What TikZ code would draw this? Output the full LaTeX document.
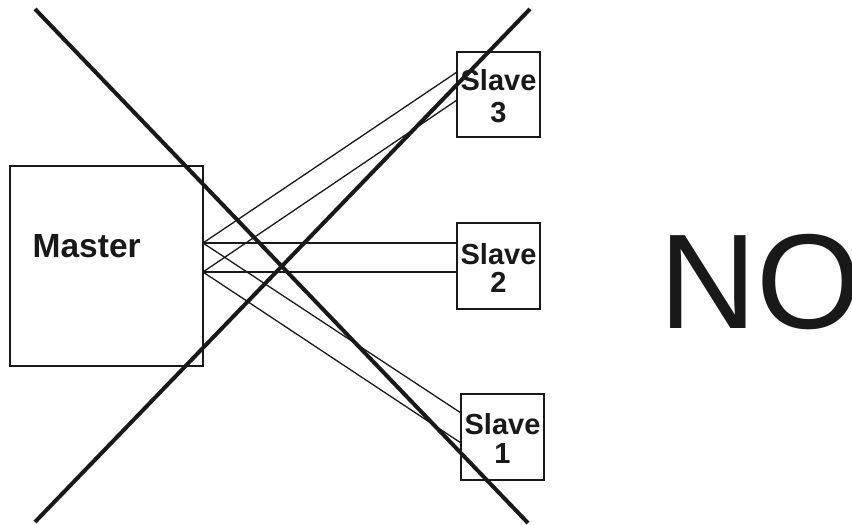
\documentclass[tikz,border=0pt]{standalone}
\usepackage{fontspec}
\setmainfont{Liberation Sans}
\begin{document}
\begin{tikzpicture}[x=1pt,y=-1pt,
  box/.style={draw=black!90, line width=2pt, inner sep=0pt, fill=white, rectangle},
  slavebox/.style={box, minimum width=83pt, minimum height=86pt},
  lbl/.style={inner sep=0pt, anchor=base, font=\fontsize{29}{29}\selectfont\bfseries, text=black!90},
  wire/.style={line width=1.3pt, black!90},
  cross/.style={line width=4pt, black!90}]
\useasboundingbox (0,0) rectangle (852,525);
% wires first
\coordinate (m1) at (203,243);
\coordinate (m2) at (203,272);
\coordinate (s3a) at (457,72);
\coordinate (s3b) at (457,100);
\coordinate (s2a) at (457,243);
\coordinate (s2b) at (457,272);
\coordinate (s1a) at (461,413);
\coordinate (s1b) at (461,443);
\draw[wire] (m1) -- (s3a);
\draw[wire] (m2) -- (s3b);
\draw[wire] (m1) -- (s2a);
\draw[wire] (m2) -- (s2b);
\draw[wire] (m1) -- (s1a);
\draw[wire] (m2) -- (s1b);
% boxes
\node[box, minimum width=193pt, minimum height=200pt] (master) at (106.5,266) {};
\node[slavebox, minimum height=85pt] (slave3) at (498.5,94.5) {};
\node[slavebox] (slave2) at (498.5,266) {};
\node[slavebox] (slave1) at (502.5,437) {};
% labels
\node[inner sep=0pt, anchor=base west, font=\fontsize{33.5}{33.5}\selectfont\bfseries, text=black!90] (mlabel) at (32.5,257) {Master};
\node[lbl] (s3t) at (498.5,90) {Slave};
\node[lbl] (s3n) at (498.5,122) {3};
\node[lbl] (s2t) at (498.5,264) {Slave};
\node[lbl] (s2n) at (498.5,292) {2};
\node[lbl] (s1t) at (502.5,434) {Slave};
\node[lbl] (s1n) at (502.5,463) {1};
\node[inner sep=0pt, anchor=base west, font=\fontsize{135}{135}\selectfont, text=black!90] (no) at (659,328) {NO};
% the big cross
\coordinate (xa1) at (35,9);
\coordinate (xa2) at (528,523);
\coordinate (xb1) at (35,522);
\coordinate (xb2) at (530,9);
\draw[cross] (xa1) -- (xa2);
\draw[cross] (xb1) -- (xb2);
\end{tikzpicture}
\end{document}
